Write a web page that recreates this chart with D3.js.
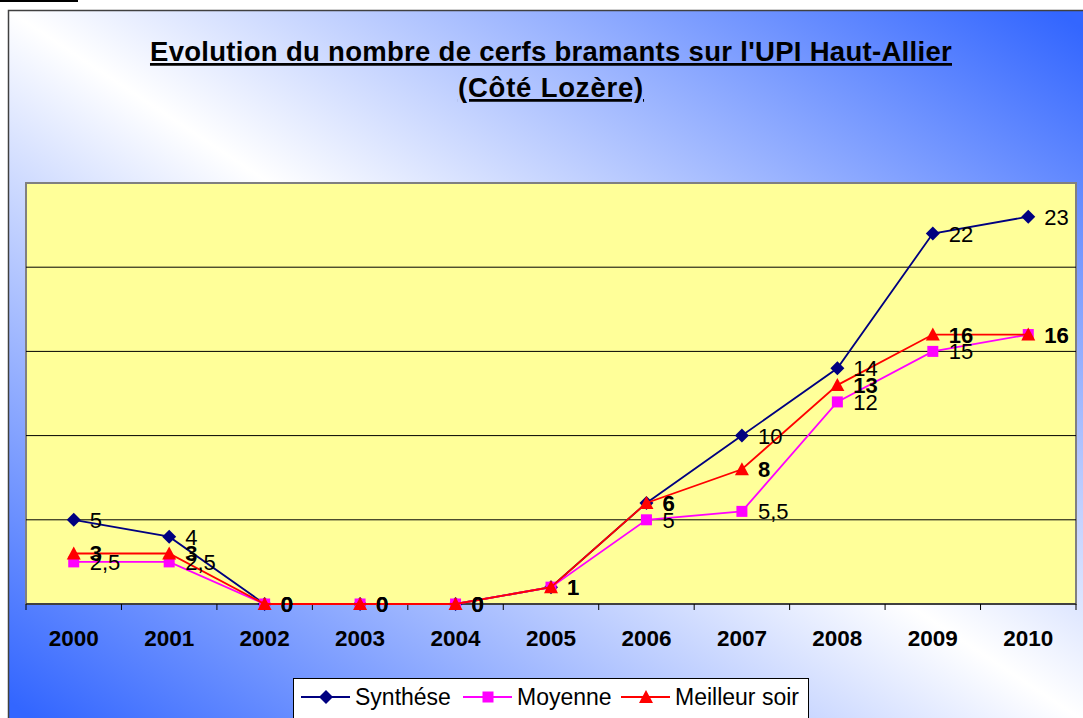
<!DOCTYPE html>
<html><head><meta charset="utf-8">
<script src="https://cdn.jsdelivr.net/npm/d3@7"></script>
<style>body{margin:0;background:#fff;} svg{display:block;font-family:"Liberation Sans",Arial,sans-serif;}</style>
</head><body>
<svg id="c" width="1083" height="718"></svg>
<script>
const years = ["2000","2001","2002","2003","2004","2005","2006","2007","2008","2009","2010"];
const synthese = [5,4,0,0,0,1,6,10,14,22,23];
const moyenne = [2.5,2.5,0,0,0,1,5,5.5,12,15,16];
const meilleur = [3,3,0,0,0,1,6,8,13,16,16];
const yTicks = [0,5,10,15,20,25];
const titleLines = ["Evolution du nombre de cerfs bramants sur l'UPI Haut-Allier","(Côté Lozère)"];

const series = [
  {name:"Synthése", values:synthese, color:"#000080", marker:"diamond", bold:false},
  {name:"Moyenne", values:moyenne, color:"#FF00FF", marker:"square", bold:false},
  {name:"Meilleur soir", values:meilleur, color:"#FF0000", marker:"triangle", bold:true}
];

const svg = d3.select("#c");
const defs = svg.append("defs");
const g = defs.append("linearGradient").attr("id","bg").attr("x1","0").attr("y1","1").attr("x2","1").attr("y2","0");
g.append("stop").attr("offset","0.02").attr("stop-color","#3366FF");
g.append("stop").attr("offset","0.5").attr("stop-color","#FFFFFF");
g.append("stop").attr("offset","0.98").attr("stop-color","#3366FF");

// small remnant line top-left
svg.append("rect").attr("x",0).attr("y",0).attr("width",78).attr("height",2).attr("fill","#000");

// chart area
svg.append("rect").attr("x",8.5).attr("y",10.5).attr("width",1090).attr("height",720)
  .attr("fill","url(#bg)").attr("stroke","#404040").attr("stroke-width",1.5);

// title
titleLines.forEach((t,i)=>{
  svg.append("text").attr("x",551).attr("y",61+i*36).attr("text-anchor","middle")
    .attr("font-size",27.5).attr("letter-spacing",i===0?0.3:0.8).attr("font-weight","bold")
    .attr("text-decoration","underline").text(t);
});

const L=26, R=1076, T=183, B=604;
const x = d3.scalePoint().domain(years).range([L,R]).padding(0.5);
const y = d3.scaleLinear().domain([0,25]).range([B,T]);

// plot area
svg.append("rect").attr("x",L).attr("y",T).attr("width",R-L).attr("height",B-T)
  .attr("fill","#FFFF99").attr("stroke","#808080").attr("stroke-width",2);

// gridlines
svg.append("g").selectAll("line").data(yTicks.filter(v=>v>0&&v<25)).join("line")
  .attr("x1",L).attr("x2",R).attr("y1",d=>y(d)).attr("y2",d=>y(d))
  .attr("stroke","#000").attr("stroke-width",1);

// x axis
const step = x.step();
const xAxis = svg.append("g").attr("transform",`translate(0,${B})`);
xAxis.append("line").attr("x1",L).attr("x2",R).attr("stroke","#000").attr("stroke-width",1.2);
xAxis.selectAll("line.tick").data(d3.range(years.length+1)).join("line").attr("class","tick")
  .attr("x1",i=>L+i*step).attr("x2",i=>L+i*step).attr("y1",0).attr("y2",6).attr("stroke","#000");
xAxis.selectAll("text").data(years).join("text")
  .attr("x",d=>x(d)).attr("y",42).attr("text-anchor","middle")
  .attr("font-size",22.5).attr("font-weight","bold").text(d=>d);

function drawMarker(sel, type, color){
  if(type==="diamond"){
    sel.append("path").attr("d","M0,-7L7,0L0,7L-7,0Z").attr("fill",color);
  } else if(type==="square"){
    sel.append("rect").attr("x",-5.5).attr("y",-5.5).attr("width",11).attr("height",11).attr("fill",color);
  } else {
    sel.append("path").attr("d","M0,-7L7,6L-7,6Z").attr("fill",color);
  }
}

const line = d3.line().x((d,i)=>x(years[i])).y(d=>y(d));
series.forEach(s=>{
  svg.append("path").datum(s.values).attr("d",line).attr("fill","none")
    .attr("stroke",s.color).attr("stroke-width",1.8);
  svg.append("g").selectAll("g").data(s.values).join("g")
    .attr("transform",(d,i)=>`translate(${x(years[i])},${y(d)})`)
    .each(function(){ drawMarker(d3.select(this), s.marker, s.color); });
});

// labels
series.forEach(s=>{
  svg.append("g").selectAll("text").data(s.values).join("text")
    .attr("x",(d,i)=>x(years[i])+16).attr("y",d=>y(d)+8)
    .attr("font-size",22).attr("font-weight",s.bold?"bold":"normal").attr("fill","#000")
    .text(d=>String(d).replace(".",","));
});

// legend
const lg = svg.append("g");
lg.append("rect").attr("x",293.5).attr("y",678.5).attr("width",515).attr("height",60)
  .attr("fill","#fff").attr("stroke","#000").attr("stroke-width",1);
const lx = [301,463,621];
series.forEach((s,i)=>{
  const gi = lg.append("g").attr("transform",`translate(${lx[i]},697)`);
  gi.append("line").attr("x1",0).attr("x2",49).attr("stroke",s.color).attr("stroke-width",1.8);
  const m = gi.append("g").attr("transform","translate(25,0)");
  drawMarker(m, s.marker, s.color);
  gi.append("text").attr("x",54).attr("y",8).attr("font-size",23).text(s.name);
});
</script>
</body></html>
